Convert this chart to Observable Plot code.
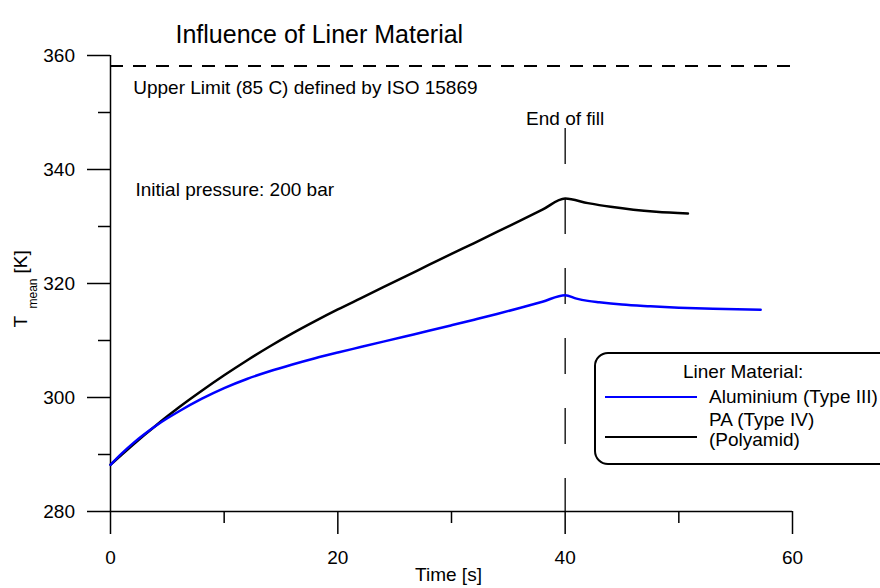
<!DOCTYPE html>
<html>
<head>
<meta charset="utf-8">
<script src="https://cdn.jsdelivr.net/npm/d3@7"></script>
<script src="https://cdn.jsdelivr.net/npm/@observablehq/plot@0.6"></script>
<style>
  html, body { margin: 0; padding: 0; background: #fff; }
  #wrap { position: relative; width: 880px; height: 588px; overflow: hidden; font-family: "Liberation Sans", Arial, sans-serif; color: #000; }
  #legend { position: absolute; left: 594px; top: 352px; width: 320px; height: 113px; box-sizing: border-box; border: 2px solid #000; border-radius: 14px; background: #fff; font-size: 19px; }
  #legend .t { position: absolute; line-height: 22px; white-space: pre; }
  #legend .sw { position: absolute; width: 92px; height: 0; }
</style>
</head>
<body>
<div id="wrap"></div>
<script>
// ---- data ----
const aluTime = [0, 1, 2, 3, 4, 5, 6, 8, 10, 12, 14, 16, 18, 20, 22, 24, 26, 28, 30, 32, 34, 36, 38, 40, 41, 42, 43, 45, 47.5, 50, 53, 57.2];
const aluTemp = [288.2, 290.2, 292.0, 293.6, 295.05, 296.35, 297.55, 299.75, 301.65, 303.25, 304.6, 305.8, 306.9, 307.9, 308.85, 309.8, 310.75, 311.7, 312.67, 313.65, 314.65, 315.7, 316.8, 317.95, 317.35, 316.95, 316.7, 316.3, 316.0, 315.75, 315.55, 315.4];
const paTime = [0, 1, 2, 3, 4, 5, 6, 8, 10, 12, 14, 16, 18, 20, 22, 24, 26, 28, 30, 32, 34, 36, 38, 40, 42, 43, 44, 46, 48, 50.8];
const paTemp = [288.2, 290.0, 291.75, 293.45, 295.1, 296.7, 298.25, 301.15, 303.9, 306.5, 308.95, 311.25, 313.4, 315.45, 317.4, 319.35, 321.3, 323.25, 325.2, 327.1, 329.05, 331.0, 332.95, 334.9, 334.1, 333.75, 333.45, 332.95, 332.6, 332.3];

const seriesNames = ["Aluminium (Type III)", "PA (Type IV)\n(Polyamid)"];
const seriesColors = ["#0000ff", "#000000"];

const upperLimit = 358.15;      // 85 C
const endOfFill = 40;
const endOfFillTop = 347.2;

const xMajorTicks = [0, 20, 40, 60];
const xMinorTicks = [10, 30, 50];
const yMajorTicks = [280, 300, 320, 340, 360];
const yMinorTicks = [290, 310, 330, 350];

const notesLeft = [
  {x: 2.0, y: 354.4, text: "Upper Limit (85 C) defined by ISO 15869"},
  {x: 2.2, y: 336.5, text: "Initial pressure: 200 bar"}
];
const notesCenter = [
  {x: 40, y: 348.8, text: "End of fill"}
];

const titleText = "Influence of Liner Material";
const legendTitle = "Liner Material:";

// ---- build ----
const alu = aluTime.map((t, i) => ({t, k: aluTemp[i], s: seriesNames[0]}));
const pa = paTime.map((t, i) => ({t, k: paTemp[i], s: seriesNames[1]}));

const font = "Liberation Sans, Arial, sans-serif";

const chart = Plot.plot({
  width: 880,
  height: 588,
  marginLeft: 110,
  marginRight: 88,
  marginTop: 55,
  marginBottom: 77,
  style: {fontFamily: font, fontSize: "19px", background: "#fff", color: "#000", overflow: "hidden"},
  x: {domain: [0, 60]},
  y: {domain: [280, 360]},
  marks: [
    // axes
    Plot.axisY(yMajorTicks, {tickSize: 23, tickPadding: 12.5, fontSize: 19, label: null, strokeWidth: 1.5}),
    Plot.axisY(yMinorTicks, {tickSize: 12, tickFormat: () => "", label: null, strokeWidth: 1.5}),
    Plot.axisX(xMajorTicks, {tickSize: 23, tickPadding: 15.8, fontSize: 19, label: null, strokeWidth: 1.5}),
    Plot.axisX(xMinorTicks, {tickSize: 12, tickFormat: () => "", label: null, strokeWidth: 1.5}),
    Plot.ruleX([0], {strokeWidth: 1.5}),
    Plot.ruleY([280], {strokeWidth: 1.5}),
    // reference lines
    Plot.ruleY([upperLimit], {strokeDasharray: "13,10", strokeWidth: 2}),
    Plot.ruleX([endOfFill], {y1: endOfFillTop, y2: 280, strokeDasharray: "36,34", strokeWidth: 1.3}),
    // series
    Plot.line(pa, {x: "t", y: "k", stroke: seriesColors[1], strokeWidth: 2.5, curve: "monotone-x"}),
    Plot.line(alu, {x: "t", y: "k", stroke: seriesColors[0], strokeWidth: 2.5, curve: "monotone-x"}),
    // annotations
    Plot.text(notesLeft, {x: "x", y: "y", text: "text", textAnchor: "start", fontSize: 19}),
    Plot.text(notesCenter, {x: "x", y: "y", text: "text", textAnchor: "middle", fontSize: 19}),
    // title
    Plot.text([titleText], {text: d => d, frameAnchor: "top-left", textAnchor: "start", dx: 65, dy: -30.3, fontSize: 25}),
    // axis labels
    Plot.text(["Time [s]"], {text: d => d, frameAnchor: "bottom", dx: -3, dy: 69, fontSize: 19}),
    Plot.text(["T"], {text: d => d, frameAnchor: "left", rotate: -90, dx: -90, dy: 44, fontSize: 19}),
    Plot.text(["mean"], {text: d => d, frameAnchor: "left", rotate: -90, dx: -77.5, dy: 25, fontSize: 12}),
    Plot.text(["[K]"], {text: d => d, frameAnchor: "left", rotate: -90, dx: -90, dy: -10, fontSize: 19})
  ]
});

const wrap = document.getElementById("wrap");
wrap.appendChild(chart);

// legend (HTML overlay)
const legend = document.createElement("div");
legend.id = "legend";
const addText = (txt, left, top, lh) => {
  const d = document.createElement("div");
  d.className = "t";
  d.textContent = txt;
  d.style.left = left + "px";
  d.style.top = top + "px";
  if (lh) d.style.lineHeight = lh + "px";
  legend.appendChild(d);
};
addText(legendTitle, 87, 7);
const swatchTops = [41.75, 81.75];
const labelTops = [32, 56];
const labelLH = [22, 20];
seriesNames.forEach((name, i) => {
  const sw = document.createElement("div");
  sw.className = "sw";
  sw.style.left = "9px";
  sw.style.top = swatchTops[i] + "px";
  sw.style.borderTop = "2.5px solid " + seriesColors[i];
  legend.appendChild(sw);
  addText(name, 113, labelTops[i], labelLH[i]);
});
wrap.appendChild(legend);
</script>
</body>
</html>
